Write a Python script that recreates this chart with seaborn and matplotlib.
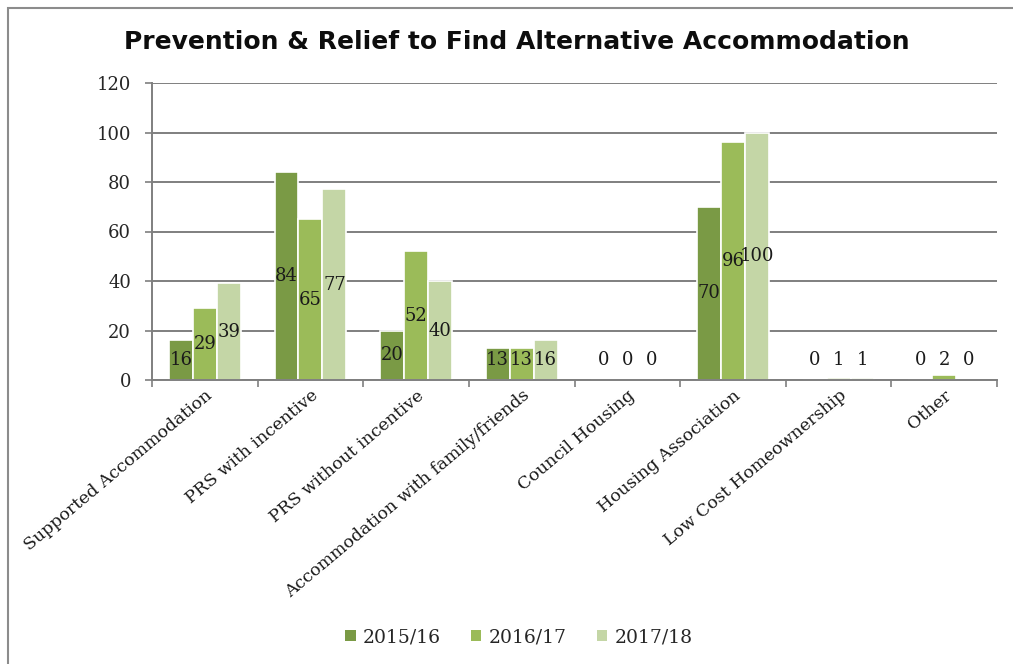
import pandas as pd
import numpy as np
import matplotlib
matplotlib.use('Agg')
import matplotlib.pyplot as plt
import seaborn as sns
from matplotlib.patches import Rectangle

# ==========================================
# DATA
# ==========================================
CATEGORIES = [
    "Supported Accommodation", "PRS with incentive", "PRS without incentive",
    "Accommodation with family/friends", "Council Housing",
    "Housing Association", "Low Cost Homeownership", "Other",
]
YEARS = ["2015/16", "2016/17", "2017/18"]
VALS_2015 = [16, 84, 20, 13, 0, 70, 0, 0]
VALS_2016 = [29, 65, 52, 13, 0, 96, 1, 2]
VALS_2017 = [39, 77, 40, 16, 0, 100, 1, 0]
COLORS = ["#7A9A45", "#9BBB59", "#C4D6A6"]

df = pd.DataFrame({
    "Category": CATEGORIES * 3,
    "Year": [y for y in YEARS for _ in CATEGORIES],
    "Value": VALS_2015 + VALS_2016 + VALS_2017,
})

sns.set_style("white")
plt.rcParams['font.family'] = ['DejaVu Serif']

fig = plt.figure(figsize=(10.13, 6.64), dpi=100)
ax = fig.add_axes([152 / 1013, 1 - 380 / 664, 845 / 1013, 297 / 664])

sns.barplot(data=df, x="Category", y="Value", hue="Year", palette=COLORS,
            saturation=1, width=0.68, edgecolor="white", linewidth=1.2,
            ax=ax, zorder=3)

ax.set_ylim(0, 120)
ax.set_xlim(-0.5, len(CATEGORIES) - 0.5)
ax.set_yticks(range(0, 121, 20))
ax.yaxis.grid(True, color="#7f7f7f", linewidth=1.4, zorder=0)
ax.set_axisbelow(True)
for s in ["top", "right"]:
    ax.spines[s].set_visible(False)
for s in ["left", "bottom"]:
    ax.spines[s].set_color("#7f7f7f")
    ax.spines[s].set_linewidth(1.4)
    ax.spines[s].set_zorder(4)

# ticks between categories, Excel style
ax.set_xticks(np.arange(-0.5, len(CATEGORIES), 1.0), minor=True)
ax.tick_params(axis="x", which="minor", length=5, color="#7f7f7f", width=1.2,
               direction="out", bottom=True)
ax.tick_params(axis="x", which="major", length=0, pad=5)
ax.tick_params(axis="y", length=5, color="#7f7f7f", width=1.2, direction="out",
               left=True, labelsize=13, pad=10, labelcolor="#262626")
ax.set_xticks(range(len(CATEGORIES)))
ax.set_xticklabels(CATEGORIES, rotation=40, ha="right", rotation_mode="anchor",
                   fontsize=12.5, color="#1a1a1a")
ax.set_xlabel("")
ax.set_ylabel("")

# data labels, centred in the bars
for cont in ax.containers:
    for bar in cont:
        v = bar.get_height()
        cx = bar.get_x() + bar.get_width() / 2
        ax.text(cx, max(v / 2, 8), f"{v:.0f}", ha="center", va="center",
                fontsize=13, color="#1a1a1a", zorder=5)

leg = ax.legend(loc="center", bbox_to_anchor=(519 / 1013, 1 - 637 / 664),
                bbox_transform=fig.transFigure, ncol=3, frameon=False,
                fontsize=13.5, handlelength=0.55, handleheight=0.55,
                handletextpad=0.4, columnspacing=1.6)
for t in leg.get_texts():
    t.set_color("#262626")
for h in leg.legend_handles:
    h.set_edgecolor("none")

fig.text(517 / 1013, 1 - 42 / 664,
         "Prevention & Relief to Find Alternative Accommodation",
         ha="center", va="center", fontsize=18, fontweight="bold",
         family="DejaVu Sans", color="#0d0d0d")

fig.patches.append(Rectangle((8 / 1013, -0.05), 1.2, 1 - 8 / 664 + 0.05,
                             transform=fig.transFigure, fill=False,
                             edgecolor="#8c8c8c", linewidth=1.5))

fig.savefig("out.png", dpi=100, facecolor="white")
